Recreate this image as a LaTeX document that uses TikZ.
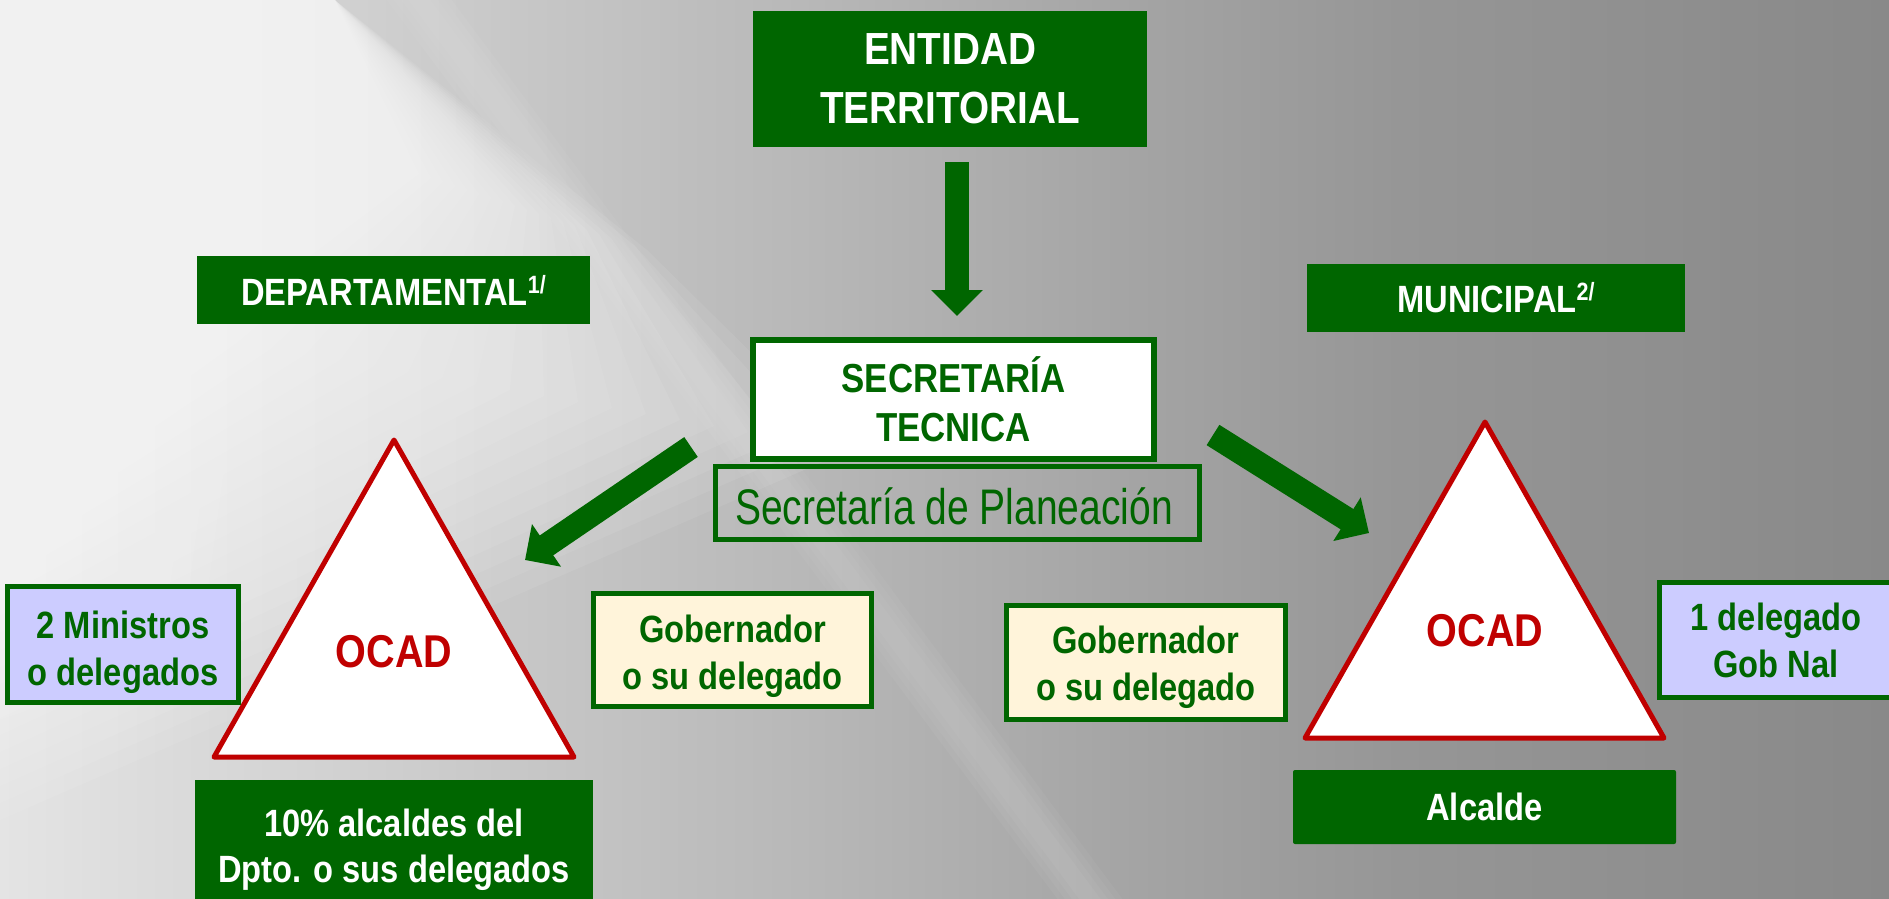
\documentclass[tikz,border=0pt]{standalone}
\usepackage{fontspec}
\setmainfont{Liberation Sans}[FakeStretch=0.86]
\newfontfamily\plainnarrow{Liberation Sans}[FakeStretch=0.78]
\usetikzlibrary{arrows.meta}
\definecolor{dgreen}{RGB}{0,102,0}
\definecolor{ocred}{RGB}{192,0,0}
\definecolor{lav}{RGB}{204,204,255}
\definecolor{cream}{RGB}{255,244,218}
\definecolor{bgA}{RGB}{228,228,228}
\definecolor{bgA2}{RGB}{217,217,217}
\definecolor{bgB}{RGB}{200,200,200}
\definecolor{bgC}{RGB}{184,184,184}
\definecolor{bgD}{RGB}{166,166,166}
\definecolor{bgD2}{RGB}{150,150,150}
\definecolor{bgE}{RGB}{137,137,137}
\pgfdeclarehorizontalshading{bgshade}{100bp}{color(0bp)=(bgA); color(25bp)=(bgA); color(30.29bp)=(bgA2); color(38.23bp)=(bgB); color(46.17bp)=(bgC); color(54.12bp)=(bgD); color(62.06bp)=(bgD2); color(75bp)=(bgE); color(100bp)=(bgE)}
\tikzset{
  bigarrow/.style={draw=dgreen, line width=24pt, -{Triangle[width=50pt,length=26pt]}},
  greenbox/.style={fill=dgreen, text=white, font=\fontsize{38}{46}\selectfont\bfseries, align=center, inner sep=0pt},
  framebox/.style={draw=dgreen, line width=5pt, inner sep=0pt},
  frametext/.style={text=dgreen, font=\fontsize{38}{47}\selectfont\bfseries, align=center, inner sep=0pt},
  ocad/.style={draw=ocred, line width=5pt, fill=white, line join=round},
  ocadtext/.style={text=ocred, font=\fontsize{46}{50}\selectfont\bfseries},
}
\newcommand{\supmark}[1]{\raisebox{12pt}{\fontsize{25}{25}\selectfont #1}}
\begin{document}
\begin{tikzpicture}[x=1pt,y=-1pt]
\useasboundingbox (0,0) rectangle (1889,899);
\clip (0,0) rectangle (1889,899);
% background
\shade[shading=bgshade] (0,0) rectangle (1889,899);
\foreach \k in {0,...,19}{
  \fill[white,opacity=0.07] (0,0) -- (335,0) -- (647-12*\k,250-4*\k) -- (850-34*\k,450-6*\k) -- (0,820-17*\k) -- cycle;
}
\foreach \k in {0,...,9}{
  \fill[white,opacity=0.05] (0,150+12*\k) -- (260-20*\k,200+12*\k) -- (200-16*\k,650-24*\k) -- (0,720-24*\k) -- cycle;
}
\foreach \w in {90,70,50,30}{
  \fill[white,opacity=0.04] (300-0.804*\w,-160-0.594*\w) -- (300+0.804*\w,-160+0.594*\w) -- (1210+0.804*\w,1060+0.594*\w) -- (1210-0.804*\w,1060-0.594*\w) -- cycle;
}
% top entity
\node[greenbox, minimum width=394pt, minimum height=136pt, font=\fontsize{45}{59}\selectfont\bfseries] (ent) at (950,79) {ENTIDAD\\TERRITORIAL};
% secretaria
\node[framebox, line width=6pt, fill=white, minimum width=401pt, minimum height=119pt] (sec) at (953.5,399.5) {};
\node[frametext, font=\fontsize{40.5}{49}\selectfont\bfseries] (secT) at (953.5,399.5) {SECRETARÍA\\TECNICA};
\node[framebox, minimum width=484pt, minimum height=73pt] (plan) at (957.5,503) {};
\node[anchor=base, text=dgreen, font=\fontsize{50}{50}\selectfont\plainnarrow, inner sep=0pt] (planT) at (954,524) {Secretaría de Planeación};
% labels
\node[greenbox, minimum width=393pt, minimum height=68pt] (dep) at (393.5,290) {DEPARTAMENTAL\supmark{1/}};
\node[greenbox, minimum width=378pt, minimum height=68pt] (mun) at (1496,298) {MUNICIPAL\supmark{2/}};
% arrows
\coordinate (dT) at (957,162);
\coordinate (dH) at (957,316);
\coordinate (lT) at (691,447);
\coordinate (lH) at (525,560);
\coordinate (rT) at (1213,435);
\coordinate (rH) at (1369,533);
\draw[bigarrow] (dT) -- (dH);
\draw[bigarrow] (lT) -- (lH);
\draw[bigarrow] (rT) -- (rH);
% triangles
\coordinate (lA) at (394,440);
\coordinate (lB) at (214,757);
\coordinate (lC) at (574,757);
\draw[ocad] (lA) -- (lB) -- (lC) -- cycle;
\node[ocadtext] (ocadL) at (394,652) {OCAD};
\coordinate (rA) at (1485,422);
\coordinate (rB) at (1305,738);
\coordinate (rC) at (1664,738);
\draw[ocad] (rA) -- (rB) -- (rC) -- cycle;
\node[ocadtext] (ocadR) at (1485,631) {OCAD};
% side boxes
\node[framebox, fill=lav, minimum width=231pt, minimum height=116pt] (min) at (123,644.5) {};
\node[frametext] (minT) at (123,652) {2 Ministros\\o delegados};
\node[framebox, fill=cream, minimum width=278pt, minimum height=113pt] (gobL) at (732.5,650) {};
\node[frametext] (gobLT) at (732.5,656.5) {Gobernador\\o su delegado};
\node[framebox, fill=cream, minimum width=279pt, minimum height=114pt] (gobR) at (1146,662.5) {};
\node[frametext] (gobRT) at (1146,667) {Gobernador\\o su delegado};
\node[framebox, fill=lav, minimum width=233pt, minimum height=115pt] (nal) at (1776,640) {};
\node[frametext] (nalT) at (1776,640) {1 delegado\\Gob Nal};
% bottom boxes
\node[greenbox, minimum width=398pt, minimum height=135pt] (alc10) at (394,847.5) {};
\node[greenbox, fill=none] (alc10T) at (394,850) {10\% alcaldes del\\Dpto. o sus delegados};
\node[greenbox, minimum width=383pt, minimum height=74pt, rounded corners=2pt] (alc) at (1484.5,807) {Alcalde};
\end{tikzpicture}
\end{document}
